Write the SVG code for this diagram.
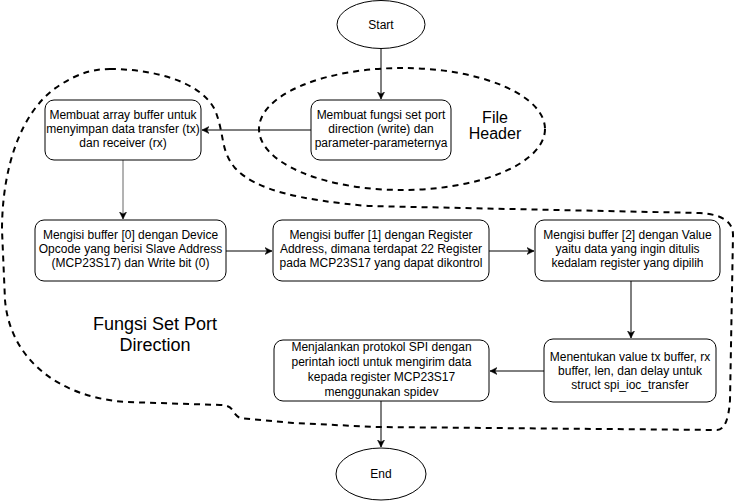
<svg xmlns="http://www.w3.org/2000/svg" width="736" height="501" viewBox="0 0 736 501">
<style>
.box{fill:#fff;stroke:#000;stroke-width:1}
.t{font-family:"Liberation Sans",Arial,sans-serif;font-size:12px;fill:#000;text-anchor:middle}
.big{font-family:"Liberation Sans",Arial,sans-serif;fill:#000;text-anchor:middle}
.dash{fill:none;stroke:#000;stroke-width:2;stroke-dasharray:6 5}
.edge{fill:none;stroke:#000;stroke-width:1}
</style>
<defs>
<marker id="arr" markerWidth="8" markerHeight="8" refX="7" refY="4" orient="auto" markerUnits="userSpaceOnUse">
<path d="M0,0.5 L7,4 L0,7.5 L2,4 Z" fill="#000" stroke="#000" stroke-width="0.5"/>
</marker>
<marker id="arrg" markerWidth="8" markerHeight="8" refX="7" refY="4" orient="auto" markerUnits="userSpaceOnUse">
<path d="M0,0.5 L7,4 L0,7.5 L2,4 Z" fill="#000" stroke="#000" stroke-width="0.5"/>
</marker>
</defs>
<rect width="736" height="501" fill="#fff"/>

<g id="group-fungsi">
<path class="dash" d="M110,69 C150,69 200,80 215,110 C225,135 220,150 235,168 C255,190 300,200 368,206 L700,213 Q733,215 733,235 L730,400 Q728,430 717,430 L377,427 L293,423 L240,418 Q236,416 233,411 Q230,405 220,405 L127,402 C60,398 10,360 5,300 L2,230 C2,170 20,110 60,85 C80,72 95,69 110,69 Z"/>
<text class="big" font-size="18" x="155" y="329.5">Fungsi Set Port</text>
<text class="big" font-size="18" x="155" y="350.5">Direction</text>
</g>

<g id="group-header">
<ellipse class="dash" cx="402" cy="129" rx="143" ry="61"/>
<text class="big" font-size="16" x="495" y="122.5">File</text>
<text class="big" font-size="16" x="495" y="138.5">Header</text>
</g>

<g id="connectors">
<line class="edge" x1="381" y1="48" x2="381" y2="99" marker-end="url(#arr)"/>
<line class="edge" x1="311" y1="130" x2="202" y2="130" marker-end="url(#arr)"/>
<line class="edge" x1="123" y1="160" x2="123" y2="219" stroke="#666" marker-end="url(#arrg)" style="stroke:#666"/>
<line class="edge" x1="226" y1="251" x2="272" y2="251" marker-end="url(#arr)"/>
<line class="edge" x1="489" y1="251" x2="534" y2="251" marker-end="url(#arr)"/>
<line class="edge" x1="631" y1="281" x2="631" y2="338" marker-end="url(#arr)"/>
<line class="edge" x1="544" y1="371" x2="490" y2="371" marker-end="url(#arr)"/>
<line class="edge" x1="381" y1="401" x2="381" y2="447" marker-end="url(#arr)"/>
</g>

<g id="start">
<ellipse class="box" cx="381" cy="24.5" rx="44" ry="24"/>
<text class="t" x="381" y="29">Start</text>
</g>

<g id="header-box">
<rect class="box" x="311" y="100" width="140" height="60" rx="9"/>
<text class="t" x="381" y="119">Membuat fungsi set port</text>
<text class="t" x="381" y="133">direction (write) dan</text>
<text class="t" x="381" y="147">parameter-parameternya</text>
</g>

<g id="array-box">
<rect class="box" x="45" y="100" width="156" height="60" rx="9"/>
<text class="t" x="123" y="119">Membuat array buffer untuk</text>
<text class="t" x="123" y="133">menyimpan data transfer (tx)</text>
<text class="t" x="123" y="147">dan receiver (rx)</text>
</g>

<g id="buffer0">
<rect class="box" x="35" y="220" width="191" height="61" rx="9"/>
<text class="t" x="130.5" y="239">Mengisi buffer [0] dengan Device</text>
<text class="t" x="130.5" y="253">Opcode yang berisi Slave Address</text>
<text class="t" x="130.5" y="267">(MCP23S17) dan Write bit (0)</text>
</g>

<g id="buffer1">
<rect class="box" x="273" y="220" width="216" height="61" rx="9"/>
<text class="t" x="381" y="239">Mengisi buffer [1] dengan Register</text>
<text class="t" x="381" y="253">Address, dimana terdapat 22 Register</text>
<text class="t" x="381" y="267">pada MCP23S17 yang dapat dikontrol</text>
</g>

<g id="buffer2">
<rect class="box" x="535" y="220" width="185" height="61" rx="9"/>
<text class="t" x="627.5" y="239">Mengisi buffer [2] dengan Value</text>
<text class="t" x="627.5" y="253">yaitu data yang ingin ditulis</text>
<text class="t" x="627.5" y="267">kedalam register yang dipilih</text>
</g>

<g id="value-box">
<rect class="box" x="544" y="339" width="172" height="63" rx="9"/>
<text class="t" x="630" y="361">Menentukan value tx buffer, rx</text>
<text class="t" x="630" y="375">buffer, len, dan delay untuk</text>
<text class="t" x="630" y="389">struct spi_ioc_transfer</text>
</g>

<g id="spi-box">
<rect class="box" x="274" y="340" width="215" height="61" rx="9"/>
<text class="t" x="381.5" y="351">Menjalankan protokol SPI dengan</text>
<text class="t" x="381.5" y="366">perintah ioctl untuk mengirim data</text>
<text class="t" x="381.5" y="381">kepada register MCP23S17</text>
<text class="t" x="381.5" y="396">menggunakan spidev</text>
</g>

<g id="end">
<ellipse class="box" cx="381" cy="474" rx="45" ry="26"/>
<text class="t" x="381" y="478">End</text>
</g>
</svg>
